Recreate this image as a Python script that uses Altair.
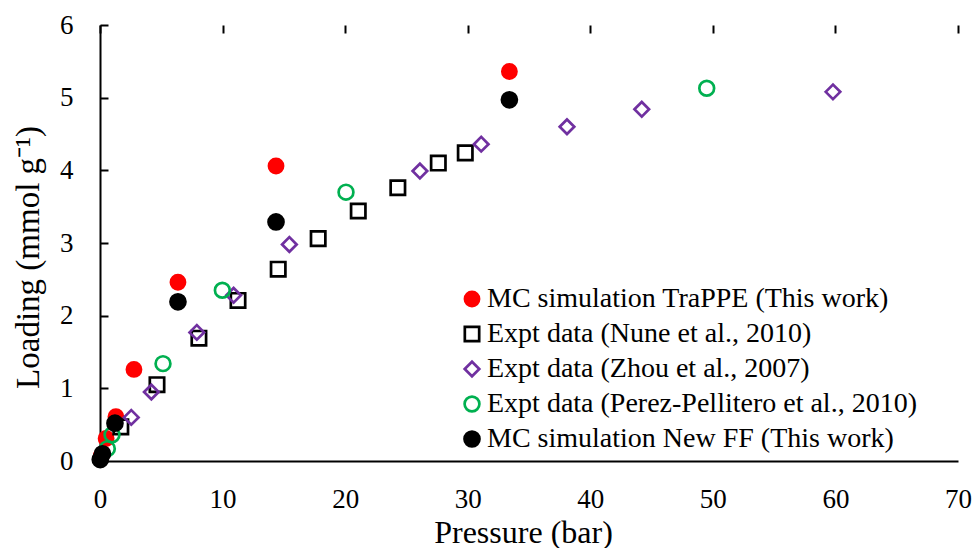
import altair as alt
import pandas as pd

series_names = [
    "MC simulation TraPPE (This work)",
    "Expt data (Nune et al., 2010)",
    "Expt data (Zhou et al., 2007)",
    "Expt data (Perez-Pellitero et al., 2010)",
    "MC simulation New FF (This work)",
]

trappe_p = [0.1, 0.5, 1.3, 2.77, 6.36, 14.36, 33.4]
trappe_L = [0.07, 0.31, 0.61, 1.26, 2.46, 4.06, 5.36]

nune_p = [1.7, 4.65, 8.07, 11.26, 14.54, 17.8, 21.07, 24.3, 27.6, 29.8]
nune_L = [0.47, 1.05, 1.69, 2.21, 2.64, 3.06, 3.44, 3.76, 4.10, 4.24]

zhou_p = [2.55, 4.19, 7.9, 10.9, 15.45, 26.1, 31.1, 38.1, 44.2, 59.8]
zhou_L = [0.60, 0.95, 1.77, 2.28, 2.98, 3.99, 4.36, 4.60, 4.84, 5.08]

perez_p = [0.6, 0.98, 5.14, 9.98, 20.07, 49.5]
perez_L = [0.17, 0.36, 1.34, 2.35, 3.70, 5.13]

newff_p = [0.02, 0.2, 1.22, 6.36, 14.36, 33.4]
newff_L = [0.02, 0.1, 0.52, 2.19, 3.29, 4.97]

x_ticks = [0, 10, 20, 30, 40, 50, 60, 70]
y_ticks = [0, 1, 2, 3, 4, 5, 6]

fill_range = ["#FF0000", "transparent", "transparent", "transparent", "#000000"]
stroke_range = ["#FF0000", "#000000", "#7030A0", "#00B050", "#000000"]
shape_range = ["circle", "square", "diamond", "circle", "circle"]
size_range = [200, 225, 210, 195, 200]

rows = []
for i, (name, ps, ls) in enumerate(zip(
        series_names,
        [trappe_p, nune_p, zhou_p, perez_p, newff_p],
        [trappe_L, nune_L, zhou_L, perez_L, newff_L])):
    for p, l in zip(ps, ls):
        rows.append({"series": name, "p": p, "L": l, "order": i})
df = pd.DataFrame(rows)

FONT = "Liberation Serif"
xscale = alt.Scale(domain=[0, 70], nice=False, zero=True)
yscale = alt.Scale(domain=[0, 6], nice=False, zero=True)

# inward ticks are drawn as short dashed grid segments starting at each axis line
xaxis = alt.Axis(title="Pressure (bar)", values=x_ticks,
                 ticks=False, tickSize=0, labelPadding=25, titlePadding=5,
                 titleFontSize=32, titleX=423,
                 labelFlush=False, domain=True,
                 grid=True, gridDash=[8, 2000], gridColor="black", gridWidth=2,
                 gridOpacity=1, format="d")
yaxis = alt.Axis(title="Loading (mmol g\u207b\u00b9)", values=y_ticks,
                 ticks=False, tickSize=0, labelPadding=27, titlePadding=14,
                 titleFontSize=33, titleY=232,
                 labelFlush=False, domain=True,
                 grid=True, gridDash=[8, 2000], gridColor="black", gridWidth=2,
                 gridOpacity=1, format="d")

legend = alt.Legend(
    title=None, orient="none", legendX=358, legendY=260,
    labelFont=FONT, labelFontSize=28, labelColor="black",
    symbolSize=200, symbolStrokeWidth=2.7, rowPadding=7,
    labelOffset=1, labelLimit=600, padding=0,
)

chart = alt.Chart(df).mark_point(strokeWidth=2.7, opacity=1).encode(
    x=alt.X("p:Q", scale=xscale, axis=xaxis),
    y=alt.Y("L:Q", scale=yscale, axis=yaxis),
    fill=alt.Fill("series:N", scale=alt.Scale(domain=series_names, range=fill_range), legend=legend),
    stroke=alt.Stroke("series:N", scale=alt.Scale(domain=series_names, range=stroke_range), legend=legend),
    shape=alt.Shape("series:N", scale=alt.Scale(domain=series_names, range=shape_range), legend=legend),
    size=alt.Size("series:N", scale=alt.Scale(domain=series_names, range=size_range), legend=legend),
    order=alt.Order("order:Q"),
).properties(
    width=858, height=436,
    autosize=alt.AutoSizeParams(type="none"),
    padding={"left": 100, "top": 25, "right": 18, "bottom": 87},
    background="white",
).configure_view(strokeWidth=0).configure_axis(
    domainColor="black", domainWidth=2,
    labelFont=FONT, labelFontSize=27, labelColor="black",
    titleFont=FONT, titleColor="black", titleFontWeight="normal",
)

chart.save("out.html", embed_options={"renderer": "svg", "actions": False})
